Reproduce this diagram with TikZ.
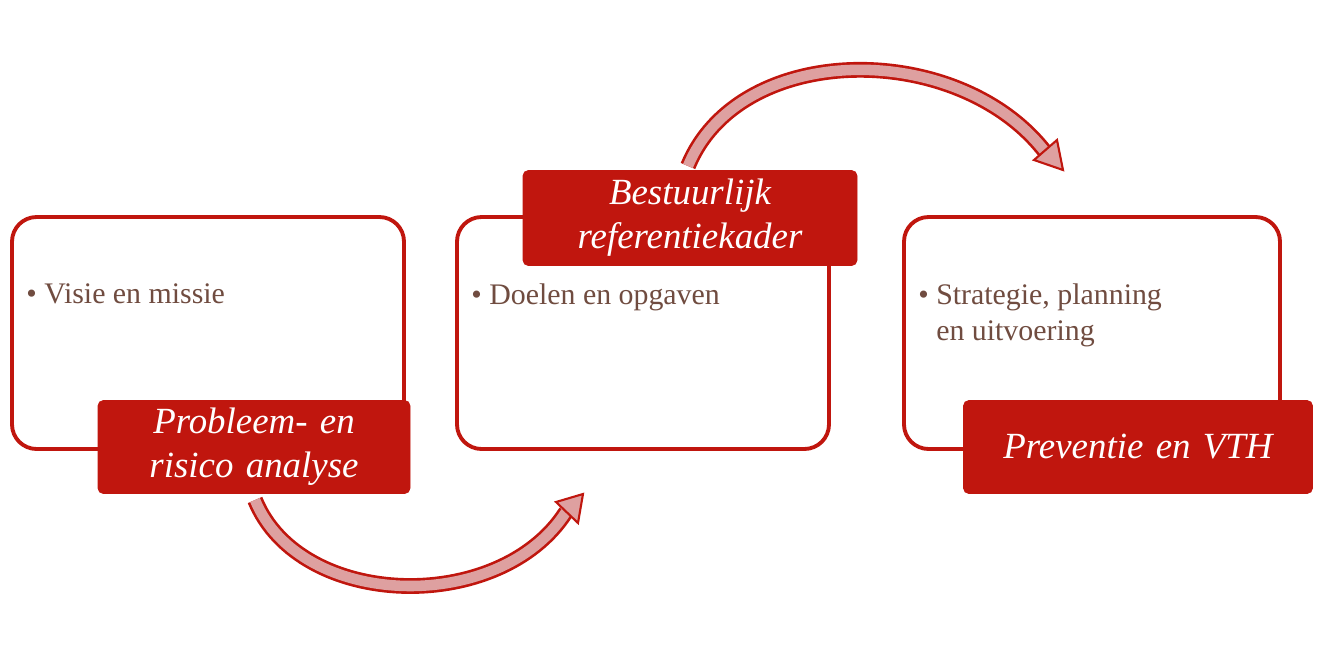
\documentclass[tikz,border=0pt]{standalone}
\usepackage{fontspec}
\setmainfont{Liberation Serif}
\usetikzlibrary{positioning}
\definecolor{boxred}{RGB}{192,22,14}
\definecolor{arrpink}{RGB}{222,160,160}
\definecolor{txtbrown}{RGB}{112,76,64}
\tikzset{stage/.style={draw=boxred, line width=2.2pt, rounded corners=14, fill=white}}
\tikzset{tag/.style={fill=boxred, draw=boxred, rounded corners=3, text=white, align=center,
  font=\fontsize{21}{25}\selectfont\itshape, inner sep=0pt}}
\tikzset{point/.style={anchor=north west, text=txtbrown, align=left,
  font=\fontsize{17}{21}\selectfont, inner sep=0pt}}
\tikzset{flow/.style={line cap=butt, line width=9pt, draw=boxred}}
\tikzset{flowin/.style={line cap=butt, line width=6pt, draw=arrpink}}
\tikzset{flowhead/.style={fill=arrpink, draw=boxred, line width=1.2pt, line join=miter}}
\begin{document}
\begin{tikzpicture}[x=0.02cm, y=-0.02cm]
\useasboundingbox (0,0) rectangle (1330,667);
% stages
\draw[stage] (12,217) rectangle (404,449);
\draw[stage] (457,217) rectangle (829,449);
\draw[stage] (904,217) rectangle (1280,449);
\node[point] (p1) at (26,283) {\textbullet\ Visie en missie};
\node[point] (p2) at (471,283) {\textbullet\ Doelen en opgaven};
\node[point] (p3) at (918,283) {\textbullet\ Strategie, planning\\\phantom{\textbullet\ }en uitvoering};
% arrows
\coordinate (a1) at (255,500);
\coordinate (b1) at (566,512);
\draw[flow] (a1) .. controls (300,610) and (500,615) .. (b1);
\draw[flowin] (a1) .. controls (300,610) and (500,615) .. (b1);
\draw[flowhead] (583,494) -- (578,523) -- (556,502) -- cycle;
\coordinate (a2) at (688,166);
\coordinate (b2) at (1046,153);
\draw[flow] (a2) .. controls (740,40) and (960,40) .. (b2);
\draw[flowin] (a2) .. controls (740,40) and (960,40) .. (b2);
\draw[flowhead] (1063,170) -- (1034,160) -- (1057,140) -- cycle;
% tags
\node[tag, minimum width=312\pgflinewidth, text width=300*0.02cm, minimum width=312*0.02cm, minimum height=93*0.02cm] (t1) at (254,447) {Probleem- en\\risico analyse};
\node[tag, text width=320*0.02cm, minimum width=334*0.02cm, minimum height=95*0.02cm] (t2) at (690,218) {Bestuurlijk\\referentiekader};
\node[tag, text width=340*0.02cm, minimum width=349*0.02cm, minimum height=93*0.02cm] (t3) at (1138,447) {Preventie en VTH};
\end{tikzpicture}
\end{document}
